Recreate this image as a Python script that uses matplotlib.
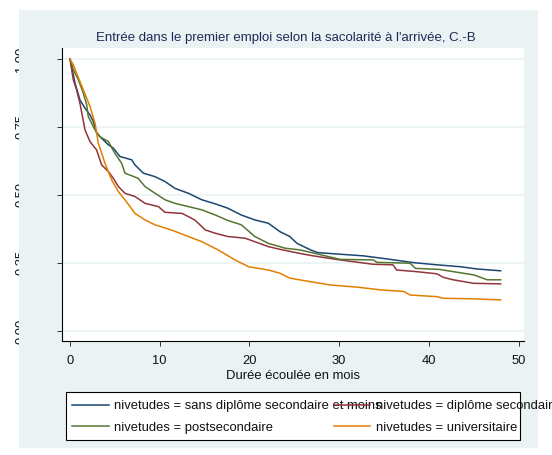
import numpy as np
import matplotlib
matplotlib.use('Agg')
import matplotlib.pyplot as plt
from matplotlib.patches import Rectangle
from matplotlib.transforms import Bbox, TransformedBbox

plt.rcParams['font.family'] = ['Liberation Sans', 'DejaVu Sans']

# Kaplan-Meier curves (months, survival)
t_sans = [0, 0.56, 1.11, 1.67, 2.23, 2.6, 2.97, 3.53, 4.28, 4.83, 5.57, 6.88, 7.25, 8.17, 9.48,
          10.6, 11.7, 13.2, 14.7, 16.2, 17.6, 19.1, 20.6, 22.1, 23.4, 24.5, 25.3, 26.8, 27.6,
          30.1, 32.7, 35.7, 38.3, 40.9, 43.5, 45.3, 48]
s_sans = [1.0, 0.911, 0.849, 0.819, 0.794, 0.770, 0.727, 0.708, 0.684, 0.672, 0.641, 0.629, 0.610,
          0.580, 0.567, 0.549, 0.524, 0.506, 0.482, 0.467, 0.451, 0.426, 0.408, 0.396, 0.365,
          0.347, 0.322, 0.298, 0.288, 0.282, 0.276, 0.263, 0.251, 0.243, 0.236, 0.228, 0.221]

t_sec = [0, 0.37, 0.74, 1.11, 1.67, 2.23, 2.97, 3.53, 4.28, 4.83, 5.39, 6.13, 7.25, 8.36, 9.85,
         10.6, 12.5, 13.9, 15.1, 16.2, 17.6, 19.5, 20.6, 22.1, 23.4, 25.6, 27.1, 30.1, 33.8,
         36.0, 36.4, 38.6, 40.9, 41.6, 42.7, 45.0, 48]
s_sec = [1.0, 0.923, 0.886, 0.837, 0.739, 0.696, 0.665, 0.610, 0.586, 0.561, 0.531, 0.506, 0.494,
         0.469, 0.457, 0.436, 0.432, 0.408, 0.371, 0.359, 0.347, 0.341, 0.328, 0.310, 0.300,
         0.285, 0.276, 0.261, 0.245, 0.243, 0.224, 0.218, 0.210, 0.197, 0.188, 0.175, 0.173]

t_post = [0, 0.37, 0.93, 1.49, 1.86, 2.04, 2.79, 3.34, 4.28, 5.0, 5.76, 6.13, 7.6, 8.36, 9.48,
          10.6, 11.7, 13.2, 14.7, 16.2, 17.6, 19.1, 20.6, 22.1, 24.0, 25.6, 26.8, 30.1, 33.8,
          34.2, 37.9, 38.5, 41.2, 42.7, 45.0, 46.5, 48]
s_post = [1.0, 0.96, 0.923, 0.874, 0.831, 0.788, 0.739, 0.714, 0.696, 0.653, 0.616, 0.580, 0.561,
          0.531, 0.506, 0.482, 0.469, 0.457, 0.445, 0.426, 0.406, 0.390, 0.347, 0.322, 0.304,
          0.298, 0.289, 0.263, 0.261, 0.252, 0.249, 0.230, 0.226, 0.218, 0.206, 0.188, 0.188]

t_univ = [0, 0.37, 0.74, 1.49, 2.23, 2.79, 3.16, 3.9, 4.65, 5.39, 6.13, 7.25, 8.36, 9.48, 11.3,
          13.2, 14.7, 16.5, 18.4, 19.9, 22.1, 23.4, 24.5, 26.8, 29.0, 32.0, 34.6, 37.2, 37.9,
          40.9, 41.6, 45.0, 48]
s_univ = [1.0, 0.978, 0.947, 0.886, 0.825, 0.763, 0.690, 0.616, 0.555, 0.512, 0.482, 0.432, 0.408,
          0.390, 0.371, 0.347, 0.328, 0.298, 0.261, 0.236, 0.224, 0.212, 0.194, 0.181, 0.169,
          0.161, 0.151, 0.145, 0.132, 0.126, 0.120, 0.118, 0.114]

labels = ['nivetudes = sans diplôme secondaire et moins',
          'nivetudes = diplôme secondaire',
          'nivetudes = postsecondaire',
          'nivetudes = universitaire']
x_ticks = [0, 10, 20, 30, 40, 50]
y_ticks = [0, 0.25, 0.5, 0.75, 1.0]
y_tick_labels = ['0.00', '0.25', '0.50', '0.75', '1.00']

W, H = 552, 455
bg = '#EAF2F3'

fig = plt.figure(figsize=(W / 100, H / 100), dpi=100)
fig.patch.set_facecolor('white')

# light blue graph region (the picture is cropped a bit on the left)
fig.patches.append(Rectangle((19 / W, 1 - 448 / H), (538 - 19) / W, (448 - 10) / H,
                             transform=fig.transFigure, facecolor=bg, edgecolor='none', zorder=0))
# legend frame
fig.patches.append(Rectangle((66 / W, 1 - 440 / H), (520 - 66) / W, (440 - 392) / H,
                             transform=fig.transFigure, facecolor='white', edgecolor='black',
                             linewidth=0.8, zorder=1))

ax = fig.add_axes([62 / W, 1 - 341 / H, (524 - 62) / W, (341 - 48) / H])
ax.set_zorder(2)
ax.set_facecolor('white')

l1, = ax.plot(t_sans, s_sans, color='#1a476f', lw=1.1)
l2, = ax.plot(t_sec, s_sec, color='#90353b', lw=1.1)
l3, = ax.plot(t_post, s_post, color='#55752f', lw=1.1)
l4, = ax.plot(t_univ, s_univ, color='#e37e00', lw=1.1)

ax.set_xlim(-0.89, 50.6)
ax.set_ylim(-0.037, 1.040)
ax.set_xticks(x_ticks)
ax.set_yticks(y_ticks)
ax.set_yticklabels(y_tick_labels, rotation=90, va='center')
ax.yaxis.grid(True, color=bg, lw=1.2)
ax.set_axisbelow(True)

for sp in ['top', 'right']:
    ax.spines[sp].set_visible(False)
for sp in ['left', 'bottom']:
    ax.spines[sp].set_linewidth(0.8)
ax.tick_params(axis='both', direction='out', length=3.6, width=0.7, color='#333333',
               labelsize=9.3, labelcolor='#111111')
ax.tick_params(axis='x', pad=6.5)
ax.tick_params(axis='y', pad=21.5)

# y labels are cut where the grey band starts, as in the original picture
clip = TransformedBbox(Bbox([[0, 0], [19 / W, 1]]), fig.transFigure)
for lbl in ax.get_yticklabels():
    lbl.set_clip_box(clip)
    lbl.set_clip_on(True)

ax.set_xlabel('Durée écoulée en mois', fontsize=9.4, labelpad=2, color='#111111')

fig.text(286 / W, 1 - 38 / H, "Entrée dans le premier emploi selon la sacolarité à l'arrivée, C.-B",
         ha='center', va='center', fontsize=9.5, color='#1c2a55', zorder=3)

leg = ax.legend([l1, l3, l2, l4], [labels[0], labels[2], labels[1], labels[3]],
                ncol=2, loc='upper left', bbox_to_anchor=(72 / W, 1 - 400 / H),
                bbox_transform=fig.transFigure, frameon=False, borderpad=0, borderaxespad=0,
                fontsize=9.4, handlelength=2.8, handletextpad=0.45, labelspacing=0.72,
                columnspacing=-3.7)
for txt in leg.get_texts():
    txt.set_color('#111111')

fig.savefig('out.png', dpi=100)
